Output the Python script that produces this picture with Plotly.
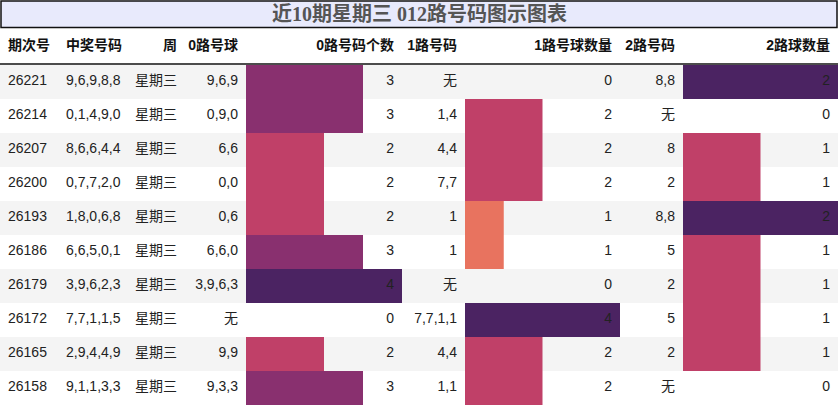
import plotly.graph_objects as go

# data
periods = ['26221', '26214', '26207', '26200', '26193', '26186', '26179', '26172', '26165', '26158']
numbers = ['9,6,9,8,8', '0,1,4,9,0', '8,6,6,4,4', '0,7,7,2,0', '1,8,0,6,8',
           '6,6,5,0,1', '3,9,6,2,3', '7,7,1,1,5', '2,9,4,4,9', '9,1,1,3,3']
weekday = ['星期三'] * 10
road0 = ['9,6,9', '0,9,0', '6,6', '0,0', '0,6', '6,6,0', '3,9,6,3', '无', '9,9', '9,3,3']
road0_cnt = [3, 3, 2, 2, 2, 3, 4, 0, 2, 3]
road1 = ['无', '1,4', '4,4', '7,7', '1', '1', '无', '7,7,1,1', '4,4', '1,1']
road1_cnt = [0, 2, 2, 2, 1, 1, 0, 4, 2, 2]
road2 = ['8,8', '无', '8', '2', '8,8', '5', '2', '5', '2', '无']
road2_cnt = [2, 0, 1, 1, 2, 1, 1, 1, 1, 0]
headers = ['期次号', '中奖号码', '周', '0路号球', '0路号码个数', '1路号码', '1路号球数量', '2路号码', '2路球数量']

# column layout: (left edge, right edge)
cols = [(0, 58), (58, 130), (130, 185), (185, 246), (246, 402), (402, 465), (465, 620), (620, 683), (683, 838)]
align = ['left', 'left', 'right', 'right', 'right', 'right', 'right', 'right', 'right']
pad = 8

def bar_color(ratio):
    if ratio >= 1:
        return '#4b2362'
    if ratio >= 0.75:
        return '#89306f'
    if ratio >= 0.5:
        return '#c04068'
    return '#e8735f'

rows = list(range(10))
fig = go.Figure()

# zebra stripes
shapes = []
for i in rows:
    if i % 2 == 0:
        shapes.append(dict(type='rect', xref='x', yref='y', x0=0, x1=838, y0=i - 0.5, y1=i + 0.5,
                           fillcolor='#f4f4f4', line_width=0, layer='below'))

# data bars
for ci, cnts in [(4, road0_cnt), (6, road1_cnt), (8, road2_cnt)]:
    left, right = cols[ci]
    mx = max(cnts)
    fig.add_trace(go.Bar(
        y=rows, x=[c / mx * (right - left) for c in cnts], base=[left] * 10,
        orientation='h', width=1,
        marker=dict(color=[bar_color(c / mx) for c in cnts], line_width=0),
        hoverinfo='skip', showlegend=False))

font = dict(family='Liberation Sans, Noto Sans CJK SC', size=14, color='#222')
columns = [periods, numbers, weekday, road0, [str(v) for v in road0_cnt], road1,
           [str(v) for v in road1_cnt], road2, [str(v) for v in road2_cnt]]
for ci, vals in enumerate(columns):
    left, right = cols[ci]
    if align[ci] == 'left':
        x, pos = left + pad, 'middle right'
    else:
        x, pos = right - pad, 'middle left'
    fig.add_trace(go.Scatter(x=[x] * 10, y=rows, text=vals, mode='text', textposition=pos,
                             textfont=font, hoverinfo='skip', showlegend=False))
    fig.add_trace(go.Scatter(x=[x], y=[-1.05], text=['<b>' + headers[ci] + '</b>'], mode='text',
                             textposition=pos, textfont=dict(font, color='#111'),
                             hoverinfo='skip', showlegend=False))

# title band and header rule
shapes.append(dict(type='rect', xref='x', yref='y', x0=1, x1=837, y0=-2.38, y1=-1.6,
                   fillcolor='#e8eafc', line=dict(color='#111', width=1.5)))
shapes.append(dict(type='line', xref='x', yref='y', x0=0, x1=838, y0=-0.53, y1=-0.53,
                   line=dict(color='#111', width=1.5)))
fig.add_annotation(x=419, y=-1.99, xref='x', yref='y', text='<b>近10期星期三 012路号码图示图表</b>',
                   showarrow=False, font=dict(family='Liberation Serif, Noto Sans CJK SC', size=20, color='#555'))

fig.update_layout(
    width=838, height=406, margin=dict(l=0, r=0, t=0, b=0),
    plot_bgcolor='white', paper_bgcolor='white', shapes=shapes, barmode='overlay',
    xaxis=dict(range=[0, 838], visible=False, fixedrange=True),
    yaxis=dict(range=[9.53, -2.41], visible=False, fixedrange=True),
)
fig.write_html('out.html', config={'displayModeBar': False},
               post_script="document.body.style.margin='0';document.body.style.overflow='hidden';")
